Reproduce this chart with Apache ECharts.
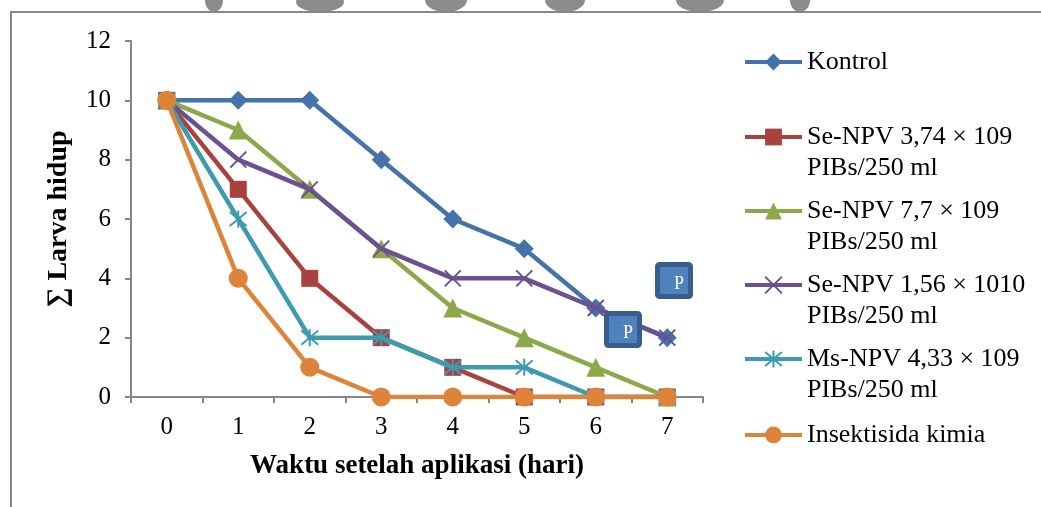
<!DOCTYPE html>
<html>
<head>
<meta charset="utf-8">
<script src="https://cdn.jsdelivr.net/npm/echarts@6/dist/echarts.min.js"></script>
<style>
  html, body { margin: 0; padding: 0; background: #ffffff; }
  #chart { width: 1041px; height: 507px; }
</style>
</head>
<body>
<div id="chart"></div>
<script>
// Days after application (category axis)
const days = ['0', '1', '2', '3', '4', '5', '6', '7'];

// Number of surviving larvae per treatment
const kontrol     = [10, 10, 10, 8, 6, 5, 3, 2];
const seNpv374    = [10, 7, 4, 2, 1, 0, 0, 0];
const seNpv77     = [10, 9, 7, 5, 3, 2, 1, 0];
const seNpv156    = [10, 8, 7, 5, 4, 4, 3, 2];
const msNpv433    = [10, 6, 2, 2, 1, 1, 0, 0];
const insektisida = [10, 4, 1, 0, 0, 0, 0, 0];

const seriesNames = [
  'Kontrol',
  'Se-NPV 3,74 × 109\nPIBs/250 ml',
  'Se-NPV 7,7 × 109\nPIBs/250 ml',
  'Se-NPV 1,56 × 1010\nPIBs/250 ml',
  'Ms-NPV 4,33 × 109\nPIBs/250 ml',
  'Insektisida kimia'
];

const FONT = '"Liberation Serif", "Times New Roman", serif';
const colors = ['#4472AA', '#A8423F', '#8BA94B', '#6B5191', '#3D9BB1', '#DD843A'];

// Open-stroke marker shapes (cross and asterisk)
const crossPath = 'path://M0,0L10,10M10,0L0,10';
const starPath = 'path://M0,0L10,10M10,0L0,10M5,-1L5,11';

const seriesData = [kontrol, seNpv374, seNpv77, seNpv156, msNpv433, insektisida];
const markers = [
  { symbol: 'diamond', size: 19, stroke: false },
  { symbol: 'rect', size: 17, stroke: false },
  { symbol: 'triangle', size: 19, stroke: false },
  { symbol: crossPath, size: 16, stroke: true },
  { symbol: starPath, size: 17, stroke: true },
  { symbol: 'circle', size: 19, stroke: false }
];

const series = seriesData.map((values, i) => ({
  name: seriesNames[i],
  type: 'line',
  data: values,
  symbol: markers[i].symbol,
  symbolSize: markers[i].size,
  showAllSymbol: true,
  lineStyle: { color: colors[i], width: 4.5 },
  itemStyle: {
    color: markers[i].stroke ? 'rgba(0,0,0,0)' : colors[i],
    borderColor: colors[i],
    borderWidth: markers[i].stroke ? 2 : 0
  },
  emphasis: { disabled: true },
  animation: false,
  z: 2 + i
}));

// Legend entries: the marker sits level with the first text line.
// A blank leading line keeps two-line labels balanced around the marker.
const iconCenters = [62, 137, 211, 285, 359, 435];
const legends = seriesNames.map((name, i) => {
  const twoLine = name.indexOf('\n') >= 0;
  return {
    data: [name],
    left: 743,
    top: iconCenters[i] - (twoLine ? 46.5 : 15.5),
    orient: 'vertical',
    padding: 0,
    itemWidth: 57,
    itemHeight: 21,
    itemGap: 0,
    selectedMode: false,
    formatter: n => (twoLine ? '\n' + n : n),
    lineStyle: { width: 4 },
    textStyle: {
      fontFamily: FONT,
      fontSize: 26,
      lineHeight: 31,
      color: '#000'
    }
  };
});

// Grey watermark fragments along the upper edge, and the two badge boxes
const blobs = [
  [214, 0, 9, 12], [320, 2, 24, 10], [446, 0, 21, 12],
  [565, 0, 20, 12], [700, 0, 24, 12], [800, 0, 10, 12]
];
const graphics = blobs.map(b => ({
  type: 'ellipse',
  shape: { cx: b[0], cy: b[1], rx: b[2], ry: b[3] },
  style: { fill: '#8c8c8c' },
  z: 0
}));
const badges = [[655, 262], [604, 311]];
badges.forEach(p => {
  graphics.push({
    type: 'rect',
    shape: { x: p[0] + 2.5, y: p[1] + 2.5, width: 33, height: 32, r: 2 },
    style: { fill: '#4F81BD', stroke: '#375E8F', lineWidth: 5 },
    z: 100
  });
  graphics.push({
    type: 'text',
    x: p[0] + 24,
    y: p[1] + 22,
    style: {
      text: 'P', fill: '#ffffff', font: '18px ' + FONT,
      align: 'center', verticalAlign: 'middle'
    },
    z: 101
  });
});
// Outer frame (top and left edges)
graphics.push({
  type: 'polyline',
  shape: { points: [[11, 507], [11, 12], [1041, 12]] },
  style: { stroke: '#878787', lineWidth: 2, fill: null },
  z: 1
});

const chart = echarts.init(document.getElementById('chart'), null, { renderer: 'canvas' });
chart.setOption({
  animation: false,
  backgroundColor: '#ffffff',
  color: colors,
  grid: { left: 131, top: 41, width: 572, height: 356, containLabel: false },
  xAxis: {
    type: 'category',
    data: days,
    boundaryGap: true,
    name: 'Waktu setelah aplikasi (hari)',
    nameLocation: 'middle',
    nameGap: 56,
    nameTextStyle: { fontFamily: FONT, fontSize: 27, fontWeight: 'bold', color: '#000' },
    axisLine: { lineStyle: { color: '#868686', width: 2 } },
    axisTick: { show: true, length: 6, lineStyle: { color: '#868686', width: 2 } },
    axisLabel: { fontFamily: FONT, fontSize: 25, color: '#000', margin: 18 },
    splitLine: { show: false }
  },
  yAxis: {
    type: 'value',
    min: 0,
    max: 12,
    interval: 2,
    name: '∑ Larva hidup',
    nameLocation: 'middle',
    nameRotate: 90,
    nameGap: 58,
    nameTextStyle: { fontFamily: FONT, fontSize: 28, fontWeight: 'bold', color: '#000' },
    axisLine: { show: true, lineStyle: { color: '#868686', width: 2 } },
    axisTick: { show: true, length: 6, lineStyle: { color: '#868686', width: 2 } },
    axisLabel: { fontFamily: FONT, fontSize: 25, color: '#000', margin: 20 },
    splitLine: { show: false }
  },
  legend: legends,
  series: series,
  graphic: graphics
});
</script>
</body>
</html>
